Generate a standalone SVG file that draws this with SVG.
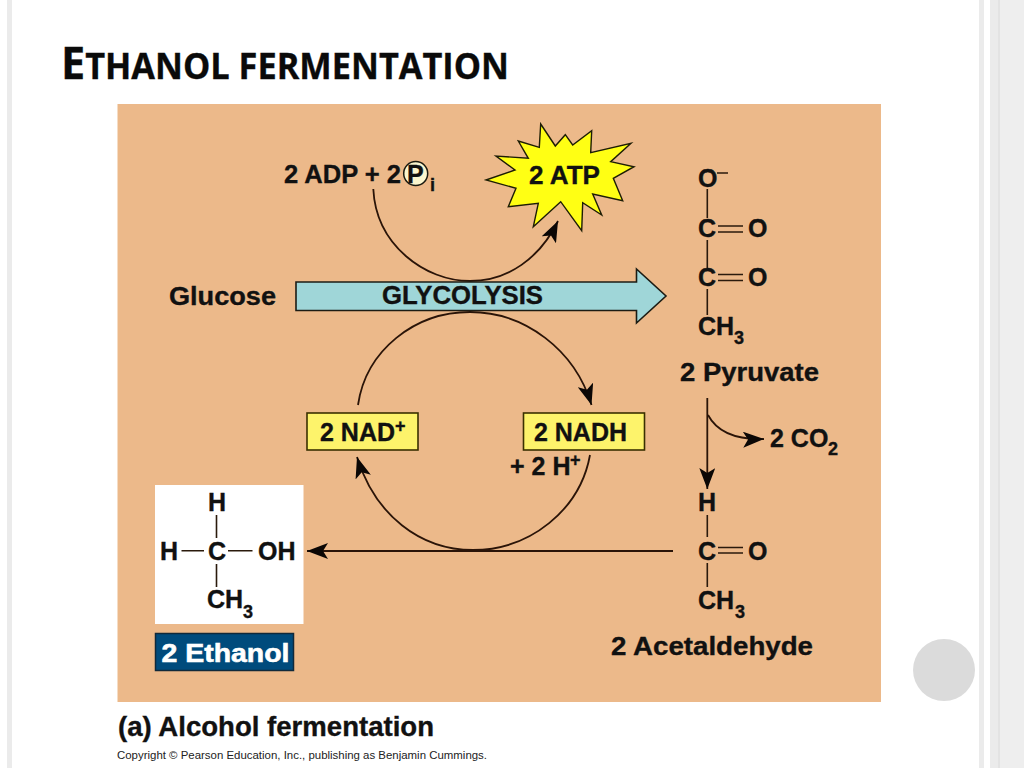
<svg xmlns="http://www.w3.org/2000/svg" width="1024" height="768" viewBox="0 0 1024 768">
<defs>
<style>
text{font-family:"Liberation Sans",Arial,sans-serif;font-weight:700;fill:#111;stroke:#111;stroke-width:.35;font-size:25px}
.sub{font-size:18px}
.bond{stroke:#2a1a0c;stroke-width:1.6;fill:none}
.curve{stroke:#2a1408;stroke-width:1.8;fill:none}
.box{fill:#FDF36B;stroke:#3a3000;stroke-width:1.6}
</style>
<marker id="head" markerUnits="userSpaceOnUse" markerWidth="22" markerHeight="16" viewBox="0 0 22 16" refX="21" refY="8" orient="auto">
<path d="M0,0 L21,8 L0,16 L5,8Z" fill="#0b0705"/>
</marker>
</defs>
<rect width="1024" height="768" fill="#fff"/>
<g id="slide-frame">
<rect x="7" y="0" width="5" height="768" fill="#EBEBEB"/>
<rect x="979" y="0" width="5" height="768" fill="#EBEBEB"/>
<rect x="990" y="0" width="8" height="768" fill="#EBEBEB"/>
<rect x="998" y="0" width="2" height="768" fill="#E3E3E3"/>
<rect x="1000" y="0" width="24" height="768" fill="#EEEEEE"/>
<circle cx="944" cy="670" r="31" fill="#DBDBDB"/>
</g>
<text id="title" x="61" y="79" style="font-family:'Open Sans','Liberation Sans',sans-serif;font-size:44px;fill:#0a0a0a" textLength="448" lengthAdjust="spacingAndGlyphs">E<tspan style="font-size:35px">THANOL FERMENTATION</tspan></text>
<rect id="panel" x="117.5" y="104" width="763.5" height="598" fill="#ECB98A"/>
<g id="connectors">
<path class="curve" d="M373.3,189 C376,245 425,281 470,281 C508,281 540,258 558,221" marker-end="url(#head)"/>
<path class="curve" d="M358,405 C366,350 415,312 470,312 C525,312 575,350 591.5,405" marker-end="url(#head)"/>
<path class="curve" d="M590,455 C580,510 530,550 473,550 C420,550 375,515 357,457" marker-end="url(#head)"/>
<path class="curve" d="M673,551 L307,551" marker-end="url(#head)"/>
<path class="curve" d="M707.3,398 L707.3,489" marker-end="url(#head)"/>
<path class="curve" d="M708,415 C716,430 732,440 764,439" marker-end="url(#head)"/>
</g>
<g id="glucose"><text x="169" y="305" textLength="107" lengthAdjust="spacingAndGlyphs">Glucose</text></g>
<g id="glycolysis">
<polygon points="296,282 636.5,282 636.5,269 666,296 636.5,323 636.5,310.5 296,310.5" fill="#9FD6D8" stroke="#1c1c14" stroke-width="1.6"/>
<text x="382" y="304" textLength="161" lengthAdjust="spacingAndGlyphs">GLYCOLYSIS</text>
</g>
<g id="adp">
<text x="284" y="183" textLength="117" lengthAdjust="spacingAndGlyphs">2 ADP + 2</text>
<circle cx="415.7" cy="173.5" r="12" fill="#FBF6CE" stroke="#1a1a10" stroke-width="1.5"/>
<text x="407" y="183">P</text>
<text x="430" y="191" class="sub">i</text>
</g>
<g id="atp">
<polygon points="486,180 515,170 496,156 528.3,158.3 518.3,141 539.3,147.3 540.7,124 555.3,146 565.3,134.7 572.7,145 591.7,130.7 590.7,152.7 631,143.3 610.7,161.7 634,166.7 613.3,178.3 622.7,200.7 592.7,194 601.7,215 582.7,202.7 581.7,230.7 560.7,201.7 533.3,226.7 538.3,203.3 508.3,206.7 516,188.3" fill="#FFFF14" stroke="#1d1d05" stroke-width="1.4"/>
<text x="529" y="184" textLength="71" lengthAdjust="spacingAndGlyphs">2 ATP</text>
</g>
<g id="pyruvate">
<text x="698" y="187">O</text>
<path class="bond" d="M717,173 H728 M707.3,189 V218 M718,226 H743 M718,232 H743 M707.3,240 V268 M718,274.5 H743 M718,280.5 H743 M707.3,289 V315"/>
<text x="698" y="237">C</text><text x="748" y="237">O</text>
<text x="698" y="286">C</text><text x="748" y="286">O</text>
<text x="698" y="335">CH</text><text x="734" y="344" class="sub">3</text>
<text x="680" y="381" textLength="139" lengthAdjust="spacingAndGlyphs">2 Pyruvate</text>
</g>
<g id="co2"><text x="770" y="447">2 CO</text><text x="828" y="455" class="sub">2</text></g>
<g id="acetaldehyde">
<text x="698" y="511">H</text>
<path class="bond" d="M707.3,515 V537 M718,547.5 H743 M718,553 H743 M707.3,563 V587"/>
<text x="698" y="560">C</text><text x="748" y="560">O</text>
<text x="698" y="609">CH</text><text x="735" y="618" class="sub">3</text>
<text x="611" y="655" textLength="202" lengthAdjust="spacingAndGlyphs">2 Acetaldehyde</text>
</g>
<g id="nad">
<rect class="box" x="307" y="413" width="111" height="37"/>
<text x="320" y="441">2 NAD</text><text x="395" y="432" class="sub">+</text>
</g>
<g id="nadh">
<rect class="box" x="523.5" y="413" width="121" height="37"/>
<text x="534" y="441" textLength="93" lengthAdjust="spacingAndGlyphs">2 NADH</text>
<text x="510" y="475">+ 2 H</text><text x="570" y="466" class="sub">+</text>
</g>
<g id="ethanol">
<rect x="155" y="485" width="148.5" height="139" fill="#fff"/>
<text x="208" y="511">H</text><text x="160" y="560">H</text><text x="208" y="560">C</text><text x="258" y="560">OH</text>
<path class="bond" d="M216.5,515 V538 M181.5,550.7 H204 M228,550.7 H252.5 M216.5,564 V587"/>
<text x="207" y="608">CH</text><text x="243" y="618" class="sub">3</text>
</g>
<g id="ethanol-label">
<rect x="155.5" y="633.5" width="138" height="37" fill="#004B7C" stroke="#10293a" stroke-width="1.5"/>
<text x="161.5" y="662" style="fill:#fff;stroke:#fff;stroke-width:.6;font-size:26px" textLength="128" lengthAdjust="spacingAndGlyphs">2 Ethanol</text>
</g>
<text id="caption" x="118" y="736" style="font-size:27px" textLength="316" lengthAdjust="spacingAndGlyphs">(a) Alcohol fermentation</text>
<text id="copyright" x="117" y="759" style="font-size:11px;font-weight:400;fill:#222;stroke:none" textLength="370" lengthAdjust="spacingAndGlyphs">Copyright © Pearson Education, Inc., publishing as Benjamin Cummings.</text>
</svg>
